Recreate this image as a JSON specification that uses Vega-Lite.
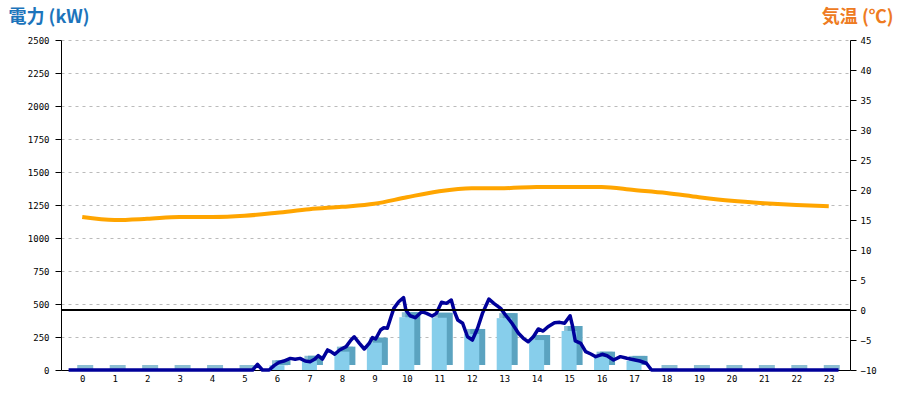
{
  "$schema": "https://vega.github.io/schema/vega-lite/v6.json",
  "width": 789,
  "height": 330,
  "autosize": {"type": "none"},
  "padding": {"left": 61, "top": 40, "right": 50, "bottom": 30},
  "background": "white",
  "config": {
    "view": {"stroke": null},
    "axis": {
      "labelFont": "DejaVu Sans Mono",
      "labelFontSize": 9,
      "labelColor": "#000000",
      "labelOverlap": false,
      "domainColor": "#000000",
      "tickColor": "#000000",
      "gridColor": "#bbbbbb",
      "gridDash": [3, 4]
    }
  },
  "datasets": {
    "bars": [
      {"hour": 0, "kw": 0}, {"hour": 1, "kw": 0}, {"hour": 2, "kw": 0}, {"hour": 3, "kw": 0},
      {"hour": 4, "kw": 0}, {"hour": 5, "kw": 0}, {"hour": 6, "kw": 36}, {"hour": 7, "kw": 70},
      {"hour": 8, "kw": 139}, {"hour": 9, "kw": 207}, {"hour": 10, "kw": 400}, {"hour": 11, "kw": 396},
      {"hour": 12, "kw": 273}, {"hour": 13, "kw": 393}, {"hour": 14, "kw": 227}, {"hour": 15, "kw": 295},
      {"hour": 16, "kw": 101}, {"hour": 17, "kw": 69}, {"hour": 18, "kw": 0}, {"hour": 19, "kw": 0},
      {"hour": 20, "kw": 0}, {"hour": 21, "kw": 0}, {"hour": 22, "kw": 0}, {"hour": 23, "kw": 0}
    ],
    "demand": [
      {"hour": -0.42, "kw": 0}, {"hour": 5.25, "kw": 0}, {"hour": 5.4, "kw": 43}, {"hour": 5.55, "kw": 0},
      {"hour": 5.76, "kw": 0}, {"hour": 5.91, "kw": 33}, {"hour": 6.06, "kw": 58}, {"hour": 6.21, "kw": 68},
      {"hour": 6.41, "kw": 88}, {"hour": 6.56, "kw": 81}, {"hour": 6.71, "kw": 88}, {"hour": 6.87, "kw": 68},
      {"hour": 7.02, "kw": 63}, {"hour": 7.17, "kw": 83}, {"hour": 7.27, "kw": 109}, {"hour": 7.4, "kw": 83},
      {"hour": 7.56, "kw": 152}, {"hour": 7.66, "kw": 139}, {"hour": 7.78, "kw": 119}, {"hour": 7.93, "kw": 152},
      {"hour": 8.13, "kw": 177}, {"hour": 8.28, "kw": 227}, {"hour": 8.38, "kw": 252}, {"hour": 8.54, "kw": 202},
      {"hour": 8.69, "kw": 159}, {"hour": 8.84, "kw": 202}, {"hour": 8.94, "kw": 245}, {"hour": 9.04, "kw": 235},
      {"hour": 9.19, "kw": 303}, {"hour": 9.29, "kw": 320}, {"hour": 9.4, "kw": 316}, {"hour": 9.5, "kw": 392},
      {"hour": 9.6, "kw": 467}, {"hour": 9.75, "kw": 517}, {"hour": 9.9, "kw": 548}, {"hour": 9.97, "kw": 455},
      {"hour": 10.1, "kw": 411}, {"hour": 10.26, "kw": 396}, {"hour": 10.46, "kw": 442}, {"hour": 10.61, "kw": 429},
      {"hour": 10.78, "kw": 409}, {"hour": 10.91, "kw": 429}, {"hour": 11.07, "kw": 513}, {"hour": 11.22, "kw": 505},
      {"hour": 11.37, "kw": 530}, {"hour": 11.47, "kw": 440}, {"hour": 11.57, "kw": 379}, {"hour": 11.72, "kw": 354},
      {"hour": 11.87, "kw": 252}, {"hour": 12.02, "kw": 227}, {"hour": 12.18, "kw": 316}, {"hour": 12.33, "kw": 429},
      {"hour": 12.53, "kw": 538}, {"hour": 12.68, "kw": 505}, {"hour": 12.89, "kw": 467}, {"hour": 13.04, "kw": 417},
      {"hour": 13.24, "kw": 354}, {"hour": 13.44, "kw": 278}, {"hour": 13.59, "kw": 240}, {"hour": 13.74, "kw": 214},
      {"hour": 13.9, "kw": 252}, {"hour": 14.05, "kw": 311}, {"hour": 14.2, "kw": 295}, {"hour": 14.35, "kw": 328},
      {"hour": 14.55, "kw": 358}, {"hour": 14.71, "kw": 361}, {"hour": 14.86, "kw": 354}, {"hour": 15.03, "kw": 411},
      {"hour": 15.11, "kw": 328}, {"hour": 15.19, "kw": 220}, {"hour": 15.36, "kw": 202}, {"hour": 15.51, "kw": 139},
      {"hour": 15.67, "kw": 121}, {"hour": 15.82, "kw": 101}, {"hour": 16.02, "kw": 119}, {"hour": 16.17, "kw": 108},
      {"hour": 16.37, "kw": 76}, {"hour": 16.58, "kw": 101}, {"hour": 16.78, "kw": 89}, {"hour": 17.03, "kw": 76},
      {"hour": 17.18, "kw": 68}, {"hour": 17.38, "kw": 51}, {"hour": 17.54, "kw": 0}, {"hour": 23.3, "kw": 0}
    ],
    "temperature": [
      {"hour": 0, "temp": 15.5}, {"hour": 1, "temp": 15.0}, {"hour": 2, "temp": 15.2}, {"hour": 3, "temp": 15.5},
      {"hour": 4, "temp": 15.5}, {"hour": 5, "temp": 15.7}, {"hour": 6, "temp": 16.2}, {"hour": 7, "temp": 16.8},
      {"hour": 8, "temp": 17.2}, {"hour": 9, "temp": 17.7}, {"hour": 10, "temp": 18.8}, {"hour": 11, "temp": 19.8},
      {"hour": 12, "temp": 20.3}, {"hour": 13, "temp": 20.3}, {"hour": 14, "temp": 20.5}, {"hour": 15, "temp": 20.5},
      {"hour": 16, "temp": 20.5}, {"hour": 17, "temp": 20.0}, {"hour": 18, "temp": 19.5}, {"hour": 19, "temp": 18.8},
      {"hour": 20, "temp": 18.2}, {"hour": 21, "temp": 17.8}, {"hour": 22, "temp": 17.5}, {"hour": 23, "temp": 17.3}
    ]
  },
  "encoding": {
    "x": {
      "field": "hour", "type": "quantitative",
      "scale": {"domain": [-0.5, 23.5], "nice": false, "zero": false},
      "axis": {"title": null, "values": [0,1,2,3,4,5,6,7,8,9,10,11,12,13,14,15,16,17,18,19,20,21,22,23], "ticks": false, "grid": false, "labelPadding": 4, "labelFlush": false, "labelOverlap": false}
    }
  },
  "layer": [
    {
      "encoding": {
        "y": {
          "field": "kw", "type": "quantitative",
          "scale": {"domain": [0, 2500], "nice": false},
          "axis": {
            "orient": "left",
            "values": [0, 250, 500, 750, 1000, 1250, 1500, 1750, 2000, 2250, 2500],
            "format": "d",
            "labelOverlap": false,
            "tickSize": 6,
            "labelPadding": 6,
            "grid": true,
            "title": "電力 (kW)",
            "titleFont": "Noto Sans CJK JP",
            "titleFontSize": 18,
            "titleFontWeight": "bold",
            "titleColor": "#1c74bb",
            "titleAngle": 0,
            "titleAlign": "left",
            "titleBaseline": "middle",
            "titleX": -53,
            "titleY": -23
          }
        }
      },
      "layer": [
        {
          "data": {"name": "bars"},
          "mark": {"type": "bar", "size": 15, "color": "#5ba3c0", "xOffset": 6, "yOffset": -5}
        },
        {
          "data": {"name": "bars"},
          "mark": {"type": "tick", "orient": "horizontal", "size": 16, "thickness": 5, "color": "#5ba3c0", "xOffset": 3, "yOffset": -2.5}
        },
        {
          "data": {"name": "bars"},
          "mark": {"type": "bar", "size": 15, "color": "#87ceeb"}
        },
        {
          "data": {"name": "demand"},
          "mark": {"type": "line", "color": "#00009a", "strokeWidth": 3.5, "strokeJoin": "round"}
        }
      ]
    },
    {
      "data": {"name": "temperature"},
      "encoding": {
        "y": {
          "field": "temp", "type": "quantitative",
          "scale": {"domain": [-10, 45], "nice": false, "zero": false},
          "axis": {
            "orient": "right",
            "values": [-10, -5, 0, 5, 10, 15, 20, 25, 30, 35, 40, 45],
            "labelOverlap": false,
            "tickSize": 6,
            "labelPadding": 4,
            "grid": false,
            "title": "気温 (℃)",
            "titleFont": "Noto Sans CJK JP",
            "titleFontSize": 18,
            "titleFontWeight": "bold",
            "titleColor": "#ee7b22",
            "titleAngle": 0,
            "titleAlign": "right",
            "titleBaseline": "middle",
            "titleX": 43,
            "titleY": -23
          }
        }
      },
      "layer": [
        {
          "mark": {"type": "rule", "color": "#000000", "strokeWidth": 1},
          "encoding": {"y": {"datum": 0}, "x": null}
        },
        {
          "mark": {"type": "line", "color": "#ffa500", "strokeWidth": 4, "interpolate": "monotone"}
        }
      ]
    }
  ],
  "resolve": {"scale": {"y": "independent"}}
}
